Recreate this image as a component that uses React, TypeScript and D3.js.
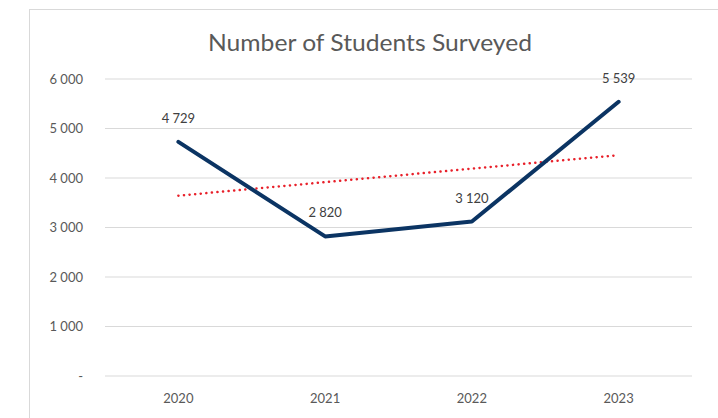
import React from "react";
import * as d3 from "d3";

const categories = ["2020", "2021", "2022", "2023"];
const values = [4729, 2820, 3120, 5539];
const yTicks = [0, 1000, 2000, 3000, 4000, 5000, 6000];
const title = "Number of Students Surveyed";

const W = 718;
const H = 418;
const FONT = "Lato, 'Open Sans', sans-serif";

const fmt = (v: number) => (v === 0 ? "-" : d3.format(",")(v).replace(/,/g, " "));

export default function App() {
  const x = d3.scaleBand<string>().domain(categories).range([105, 692]);
  const y = d3.scaleLinear().domain([0, 6000]).range([376, 79]);
  const cx = (c: string) => (x(c) as number) + x.bandwidth() / 2;

  // linear trendline (least squares)
  const xs = values.map((_, i) => i + 1);
  const mx = d3.mean(xs) as number;
  const my = d3.mean(values) as number;
  const slope =
    d3.sum(xs.map((xi, i) => (xi - mx) * (values[i] - my))) /
    d3.sum(xs.map((xi) => (xi - mx) ** 2));
  const icpt = my - slope * mx;
  const trend = xs.map((xi) => icpt + slope * xi);

  const line = d3
    .line<number>()
    .x((_, i) => cx(categories[i]))
    .y((d) => y(d));

  return (
    <svg
      width={W}
      height={H}
      style={{ position: "absolute", left: 0, top: 0, background: "#fff" }}
      fontFamily={FONT}
    >
      <rect x={29.5} y={9.5} width={690} height={420} fill="#fff" stroke="#d9d9d9" />
      <text
        x={370}
        y={51}
        textAnchor="middle"
        fontSize={24}
        fill="#595959"
        textLength={324}
        lengthAdjust="spacingAndGlyphs"
      >
        {title}
      </text>
      {yTicks.map((t) => (
        <g key={t}>
          <line x1={105} x2={692} y1={y(t)} y2={y(t)} stroke="#d9d9d9" strokeWidth={1} />
          <text x={83} y={y(t)} dy="0.35em" textAnchor="end" fontSize={13} fill="#595959">
            {fmt(t)}
          </text>
        </g>
      ))}
      {categories.map((c) => (
        <text key={c} x={cx(c)} y={403} textAnchor="middle" fontSize={13} fill="#595959">
          {c}
        </text>
      ))}
      <path
        d={line(trend) as string}
        fill="none"
        stroke="#e8202a"
        strokeWidth={2.5}
        strokeDasharray="0.1 5.5"
        strokeLinecap="round"
      />
      <path
        d={line(values) as string}
        fill="none"
        stroke="#0b3463"
        strokeWidth={4}
        strokeLinejoin="round"
        strokeLinecap="round"
      />
      {values.map((v, i) => (
        <text
          key={i}
          x={cx(categories[i])}
          y={y(v) - 19}
          textAnchor="middle"
          fontSize={13}
          fill="#404040"
        >
          {fmt(v)}
        </text>
      ))}
    </svg>
  );
}
